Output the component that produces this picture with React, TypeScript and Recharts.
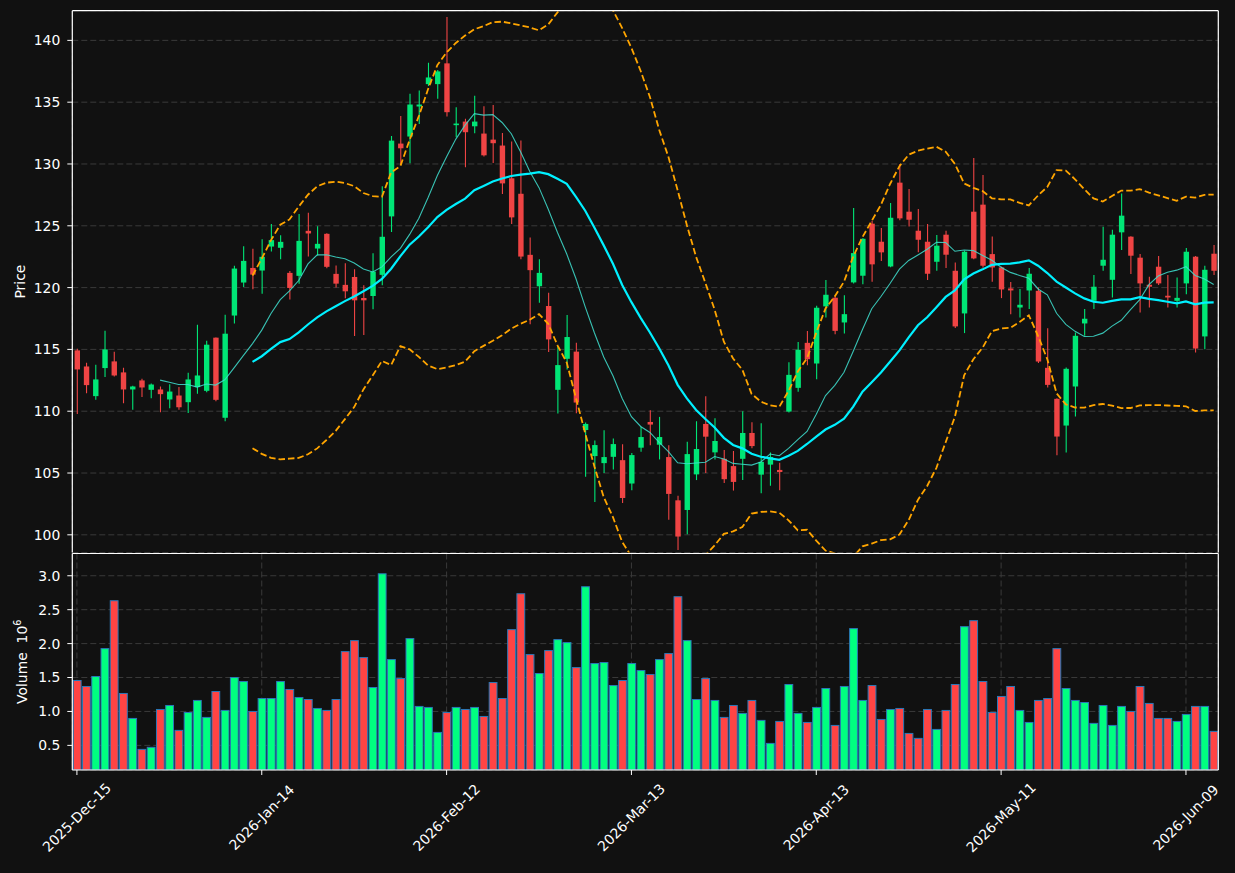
import React from 'react';
import { ComposedChart, Bar, Line, XAxis, YAxis, CartesianGrid } from 'recharts';

const FONT = '"DejaVu Sans", sans-serif';
const BG = '#111111';
const GRID = '#3a3a3a';
const UP = '#00e676';
const DOWN = '#ef4444';
const VOL_UP = '#00ff80';
const VOL_DOWN = '#ff4444';
const VOL_EDGE = '#2a78b8';

const OPEN = [114.92, 113.62, 111.22, 113.49, 114.03, 113.14, 111.76, 112.49, 111.73, 111.76, 110.95, 111.27, 110.73, 111.95, 111.65, 115.95, 109.47, 117.74, 120.41, 121.59, 121.38, 123.32, 123.22, 121.19, 120.95, 124.59, 123.16, 124.35, 121.11, 120.22, 120.86, 119.16, 119.32, 121.03, 125.76, 131.65, 132.22, 134.65, 136.46, 136.46, 138.14, 133.14, 133.43, 133.05, 132.46, 131.97, 131.49, 128.84, 127.59, 122.65, 120.11, 118.51, 111.73, 114.24, 114.82, 108.48, 106.37, 105.8, 106.31, 106.04, 104.15, 107.05, 109.13, 107.29, 106.29, 102.79, 102.01, 104.89, 108.97, 106.67, 106.15, 105.56, 106.15, 108.24, 104.87, 105.68, 105.25, 109.97, 111.89, 115.53, 113.86, 118.48, 119.18, 117.18, 120.42, 120.96, 125.17, 123.71, 121.71, 128.49, 126.14, 124.6, 123.71, 122.09, 124.28, 121.36, 117.91, 126.14, 126.71, 122.71, 121.63, 119.93, 118.39, 119.77, 119.74, 113.51, 111.0, 108.84, 112.0, 117.1, 118.93, 121.77, 120.63, 124.47, 124.12, 122.42, 120.23, 121.69, 119.34, 118.93, 120.34, 122.5, 116.05, 122.74];
const HIGH = [115.05, 113.92, 113.76, 116.51, 114.81, 113.51, 112.05, 112.62, 112.24, 112.0, 112.19, 111.95, 113.11, 117.0, 115.7, 115.97, 117.81, 121.76, 123.35, 123.14, 123.92, 125.14, 124.24, 121.35, 125.95, 126.05, 124.97, 124.4, 121.78, 121.97, 121.49, 120.19, 122.78, 128.19, 132.27, 133.89, 135.68, 135.95, 138.19, 137.6, 141.89, 134.59, 133.65, 135.51, 134.68, 134.78, 132.51, 131.81, 131.89, 124.05, 122.3, 119.59, 115.27, 117.78, 115.53, 109.08, 107.64, 108.46, 107.8, 107.32, 106.61, 108.75, 110.08, 109.54, 107.24, 103.17, 107.53, 109.19, 111.22, 109.43, 106.86, 106.78, 110.0, 109.11, 109.03, 106.65, 105.84, 113.97, 115.59, 116.48, 118.53, 120.61, 119.3, 119.39, 126.44, 124.0, 125.41, 124.82, 126.84, 130.0, 127.98, 126.36, 125.14, 124.25, 124.6, 122.04, 122.98, 130.49, 129.11, 124.14, 121.7, 120.45, 119.88, 121.58, 120.01, 116.72, 111.05, 113.54, 116.37, 118.26, 121.01, 124.93, 124.68, 127.62, 124.15, 122.71, 120.88, 122.55, 121.01, 120.82, 123.2, 122.55, 121.77, 123.44];
const LOW = [109.78, 111.46, 110.92, 112.76, 112.81, 110.65, 110.11, 111.14, 111.05, 109.92, 110.24, 110.11, 109.86, 111.41, 111.54, 110.81, 109.18, 117.1, 120.05, 119.86, 119.51, 122.92, 122.3, 119.03, 120.32, 122.51, 122.59, 121.57, 120.0, 119.14, 116.08, 116.16, 118.24, 120.19, 124.49, 130.0, 130.05, 133.24, 136.3, 135.27, 133.84, 132.16, 129.73, 132.49, 130.6, 130.08, 127.57, 125.14, 122.3, 117.03, 118.78, 114.78, 109.81, 113.38, 109.84, 104.69, 102.66, 105.01, 105.28, 102.57, 103.6, 106.72, 107.24, 106.1, 101.22, 98.78, 100.05, 104.43, 105.01, 106.1, 104.2, 103.58, 104.44, 107.0, 103.36, 103.97, 103.6, 109.9, 111.57, 113.72, 112.59, 117.58, 116.23, 116.29, 120.34, 120.28, 120.47, 122.15, 121.65, 125.45, 124.95, 122.85, 120.61, 121.36, 121.58, 116.73, 116.32, 122.3, 121.6, 120.47, 119.15, 117.85, 117.58, 118.26, 113.9, 111.92, 106.44, 106.65, 109.57, 116.1, 118.26, 121.36, 119.2, 123.04, 121.09, 117.99, 118.39, 120.2, 118.39, 118.39, 119.47, 114.75, 115.02, 121.01];
const CLOSE = [113.38, 112.11, 112.57, 115.0, 112.89, 111.76, 112.0, 111.92, 112.16, 111.38, 111.59, 110.32, 112.57, 112.89, 115.38, 110.92, 116.27, 121.54, 122.16, 121.05, 122.49, 123.84, 123.7, 119.97, 123.78, 124.38, 123.54, 121.68, 120.32, 119.7, 118.97, 118.97, 121.3, 124.11, 131.89, 131.27, 134.81, 134.81, 137.0, 137.49, 134.19, 133.27, 132.57, 133.43, 130.7, 131.68, 128.43, 125.68, 122.51, 121.41, 121.19, 115.81, 113.73, 116.0, 110.7, 108.97, 107.26, 106.29, 107.34, 102.98, 106.45, 107.91, 108.92, 107.91, 103.31, 99.86, 106.53, 106.94, 107.94, 107.59, 104.5, 104.28, 108.24, 107.18, 105.9, 106.3, 105.08, 112.94, 114.97, 114.21, 118.37, 119.42, 116.5, 117.85, 122.79, 123.95, 121.88, 122.85, 125.65, 125.6, 125.49, 123.87, 121.12, 123.39, 122.66, 116.86, 122.9, 122.36, 121.77, 121.63, 119.85, 119.77, 118.61, 121.12, 114.02, 112.13, 107.95, 113.43, 116.1, 117.48, 120.07, 122.25, 124.28, 125.82, 122.58, 120.34, 120.07, 120.34, 119.2, 119.17, 122.9, 115.07, 121.44, 121.36];
// volume in millions
const VOLUME = [1.456, 1.368, 1.515, 1.926, 2.632, 1.265, 0.897, 0.441, 0.471, 1.029, 1.088, 0.721, 0.985, 1.162, 0.912, 1.294, 1.015, 1.5, 1.441, 1.0, 1.191, 1.191, 1.441, 1.324, 1.206, 1.176, 1.044, 1.015, 1.176, 1.882, 2.044, 1.794, 1.353, 3.029, 1.765, 1.485, 2.074, 1.074, 1.059, 0.691, 0.985, 1.059, 1.029, 1.059, 0.926, 1.426, 1.191, 2.206, 2.735, 1.838, 1.559, 1.897, 2.059, 2.015, 1.647, 2.838, 1.706, 1.721, 1.382, 1.456, 1.706, 1.603, 1.544, 1.765, 1.853, 2.691, 2.044, 1.176, 1.485, 1.162, 0.912, 1.088, 0.971, 1.162, 0.868, 0.529, 0.853, 1.397, 0.971, 0.838, 1.059, 1.338, 0.794, 1.368, 2.221, 1.162, 1.382, 0.882, 1.029, 1.044, 0.676, 0.603, 1.029, 0.735, 1.015, 1.397, 2.25, 2.338, 1.441, 0.985, 1.221, 1.368, 1.015, 0.838, 1.162, 1.191, 1.926, 1.338, 1.162, 1.132, 0.824, 1.088, 0.794, 1.074, 1.0, 1.368, 1.118, 0.897, 0.897, 0.853, 0.956, 1.074, 1.074, 0.706];

const TICK_INDEX = [0, 20, 40, 60, 80, 100, 120];
const TICK_LABELS = ['2025-Dec-15', '2026-Jan-14', '2026-Feb-12', '2026-Mar-13', '2026-Apr-13', '2026-May-11', '2026-Jun-09'];
const PRICE_TICKS = [100, 105, 110, 115, 120, 125, 130, 135, 140];
const VOLUME_TICKS = [0.5, 1.0, 1.5, 2.0, 2.5, 3.0];
const PRICE_DOMAIN = [98.57, 142.4];
const VOLUME_DOMAIN = [0.137, 3.328];
const X_DOMAIN = [-0.5, 123.5];

const rollingMean = (src: number[], n: number) =>
  src.map((_, i) => (i < n - 1 ? null : src.slice(i - n + 1, i + 1).reduce((a, b) => a + b, 0) / n));
const rollingStd = (src: number[], n: number) =>
  src.map((_, i) => {
    if (i < n - 1) return null;
    const w = src.slice(i - n + 1, i + 1);
    const m = w.reduce((a, b) => a + b, 0) / n;
    return Math.sqrt(w.reduce((a, b) => a + (b - m) * (b - m), 0) / n);
  });

const MA10 = rollingMean(CLOSE, 10);
const MA20 = rollingMean(CLOSE, 20);
const STD20 = rollingStd(CLOSE, 20);
const BB_UP = MA20.map((m, i) => (m == null ? null : m + 2 * (STD20[i] as number)));
const BB_LO = MA20.map((m, i) => (m == null ? null : m - 2 * (STD20[i] as number)));

const rows = CLOSE.map((c, i) => ({
  i,
  o: OPEN[i],
  h: HIGH[i],
  l: LOW[i],
  c,
  range: [LOW[i], HIGH[i]],
  vol: VOLUME[i],
  ma10: MA10[i],
  ma20: MA20[i],
  bbUp: BB_UP[i],
  bbLo: BB_LO[i],
}));

function CandleShape(props: any) {
  const { x, y, width, height, payload } = props;
  if (!payload || x == null || y == null) return null;
  const { o, h, l, c } = payload;
  const top = Math.min(y, y + height);
  const bottom = Math.max(y, y + height);
  const span = h - l;
  const toPx = (v: number) => (span === 0 ? top : top + ((h - v) / span) * (bottom - top));
  const cx = x + width / 2;
  const color = c >= o ? UP : DOWN;
  const bodyTop = toPx(Math.max(o, c));
  const bodyBot = toPx(Math.min(o, c));
  const bw = 5.4;
  return (
    <g>
      <line x1={cx} x2={cx} y1={top} y2={bottom} stroke={color} strokeWidth={1.1} />
      <rect x={cx - bw / 2} y={bodyTop} width={bw} height={Math.max(bodyBot - bodyTop, 1.2)} fill={color} />
    </g>
  );
}

function VolumeShape(props: any) {
  const { x, y, width, height, payload } = props;
  if (!payload || x == null || y == null) return null;
  const up = payload.c >= payload.o;
  return (
    <rect
      x={x}
      y={Math.min(y, y + height)}
      width={width}
      height={Math.abs(height)}
      fill={up ? VOL_UP : VOL_DOWN}
      stroke={VOL_EDGE}
      strokeWidth={1}
    />
  );
}

function DateTick(props: any) {
  const { x, y, payload } = props;
  const idx = TICK_INDEX.indexOf(payload.value);
  const label = idx >= 0 ? TICK_LABELS[idx] : '';
  const cx = x;
  const cy = y + 40.5;
  return (
    <text
      x={cx}
      y={cy}
      dy={4.8}
      transform={`rotate(-45, ${cx}, ${cy})`}
      textAnchor="middle"
      fill="#ffffff"
      fontSize={13.9}
      fontFamily={FONT}
    >
      {label}
    </text>
  );
}

function PriceLabel(props: any) {
  const vb = props.viewBox || { x: 0, y: 10.7, width: 72, height: 541 };
  const cx = vb.x + 25;
  const cy = vb.y + vb.height / 2;
  return (
    <text x={cx} y={cy} transform={`rotate(-90, ${cx}, ${cy})`} textAnchor="middle" fill="#ffffff" fontSize={13.9} fontFamily={FONT}>
      Price
    </text>
  );
}

function VolumeLabel(props: any) {
  const vb = props.viewBox || { x: 0, y: 553, width: 72, height: 217 };
  const cx = vb.x + 26.7;
  const cy = vb.y + vb.height / 2;
  return (
    <text x={cx} y={cy} transform={`rotate(-90, ${cx}, ${cy})`} textAnchor="middle" fill="#ffffff" fontSize={13.9} fontFamily={FONT}>
      <tspan>{'Volume\u00a0\u00a010'}</tspan>
      <tspan dy={-6} fontSize={9.7}>6</tspan>
    </text>
  );
}

const tickStyle = { fill: '#ffffff', fontSize: 13.9, fontFamily: FONT };

export default function App() {
  return (
    <div style={{ position: 'absolute', left: 0, top: 0, width: 1235, height: 873, background: BG, overflow: 'hidden' }}>
      <div style={{ position: 'absolute', left: 0, top: 0 }}>
        <ComposedChart width={1235} height={553.5} data={rows} margin={{ top: 9.7, right: 15.7, bottom: 0, left: 0 }}>
          <CartesianGrid stroke={GRID} strokeDasharray="6 3" />
          <XAxis
            dataKey="i"
            type="number"
            domain={X_DOMAIN}
            ticks={TICK_INDEX}
            allowDataOverflow
            height={1}
            tick={false}
            tickLine={false}
            axisLine={false}
            interval={0}
          />
          <XAxis
            xAxisId="top"
            orientation="top"
            dataKey="i"
            type="number"
            domain={X_DOMAIN}
            allowDataOverflow
            height={1}
            tick={false}
            tickLine={false}
            axisLine={{ stroke: '#ffffff', strokeWidth: 1.2 }}
          />
          <YAxis
            type="number"
            domain={PRICE_DOMAIN}
            ticks={PRICE_TICKS}
            allowDataOverflow
            width={72.3}
            tick={tickStyle}
            tickSize={5}
            tickMargin={7}
            tickLine={{ stroke: '#ffffff' }}
            axisLine={{ stroke: '#ffffff', strokeWidth: 1.2 }}
            interval={0}
            label={<PriceLabel />}
          />
          <YAxis
            yAxisId="right"
            orientation="right"
            type="number"
            domain={PRICE_DOMAIN}
            allowDataOverflow
            width={1}
            tick={false}
            tickLine={false}
            axisLine={{ stroke: '#ffffff', strokeWidth: 1.2 }}
          />
          <Bar dataKey="range" barSize={6} shape={<CandleShape />} isAnimationActive={false} />
          <Line type="linear" dataKey="ma10" stroke="#40e0d0" strokeOpacity={0.85} strokeWidth={1.1} dot={false} activeDot={false} isAnimationActive={false} />
          <Line type="linear" dataKey="ma20" stroke="#00f0ff" strokeWidth={2.2} dot={false} activeDot={false} isAnimationActive={false} />
          <Line type="linear" dataKey="bbUp" stroke="#ffa500" strokeWidth={1.8} strokeDasharray="6.5 3" dot={false} activeDot={false} isAnimationActive={false} />
          <Line type="linear" dataKey="bbLo" stroke="#ffa500" strokeWidth={1.8} strokeDasharray="6.5 3" dot={false} activeDot={false} isAnimationActive={false} />
        </ComposedChart>
      </div>
      <div style={{ position: 'absolute', left: 0, top: 552 }}>
        <ComposedChart width={1235} height={321} data={rows} margin={{ top: 0.5, right: 15.7, bottom: 0, left: 0 }}>
          <CartesianGrid stroke={GRID} strokeDasharray="6 3" />
          <XAxis
            dataKey="i"
            type="number"
            domain={X_DOMAIN}
            ticks={TICK_INDEX}
            allowDataOverflow
            height={103}
            tick={<DateTick />}
            tickSize={5}
            tickMargin={2}
            tickLine={{ stroke: '#ffffff' }}
            axisLine={{ stroke: '#ffffff', strokeWidth: 1.2 }}
            interval={0}
          />
          <XAxis
            xAxisId="top"
            orientation="top"
            dataKey="i"
            type="number"
            domain={X_DOMAIN}
            allowDataOverflow
            height={1}
            tick={false}
            tickLine={false}
            axisLine={{ stroke: '#ffffff', strokeWidth: 1 }}
          />
          <YAxis
            type="number"
            domain={VOLUME_DOMAIN}
            ticks={VOLUME_TICKS}
            allowDataOverflow
            width={72.3}
            tick={tickStyle}
            tickFormatter={(v: number) => v.toFixed(1)}
            tickSize={5}
            tickMargin={7}
            tickLine={{ stroke: '#ffffff' }}
            axisLine={{ stroke: '#ffffff', strokeWidth: 1.2 }}
            interval={0}
            label={<VolumeLabel />}
          />
          <YAxis
            yAxisId="right"
            orientation="right"
            type="number"
            domain={VOLUME_DOMAIN}
            allowDataOverflow
            width={1}
            tick={false}
            tickLine={false}
            axisLine={{ stroke: '#ffffff', strokeWidth: 1.2 }}
          />
          <Bar dataKey="vol" barSize={7.8} shape={<VolumeShape />} isAnimationActive={false} />
        </ComposedChart>
      </div>
    </div>
  );
}
